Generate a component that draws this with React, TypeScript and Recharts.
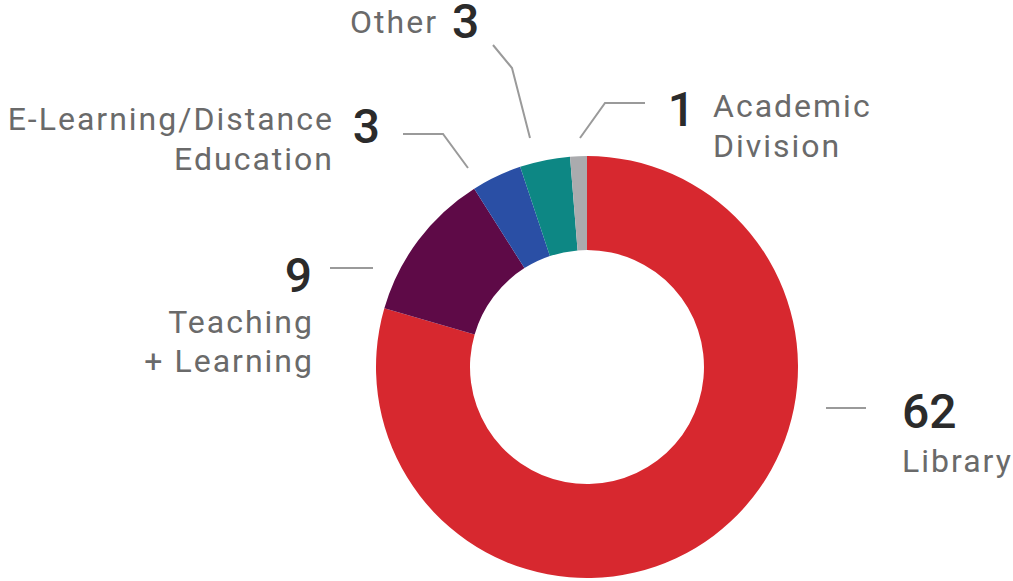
import React from "react";
import { PieChart, Pie, Cell } from "recharts";

const categories = ["Library", "Teaching + Learning", "E-Learning/Distance Education", "Other", "Academic Division"];
const values = [62, 9, 3, 3, 1];
const labelLines: string[][] = [
  ["Library"],
  ["Teaching", "+ Learning"],
  ["E-Learning/Distance", "Education"],
  ["Other"],
  ["Academic", "Division"],
];
const colors = ["#D7282F", "#5E0A47", "#2A4FA5", "#0D8784", "#AAABAE"];

const data = categories.map((name, i) => ({ name, value: values[i] }));

// Label layout (offsets relative to pie centre) – style, not data
type Layout = {
  line: [number, number][];
  num: { x: number; y: number; anchor: "start" | "end" };
  text: { x: number; y: number; anchor: "start" | "end"; lh: number };
};
const layouts: Layout[] = [
  {
    line: [[239, 41], [279, 41]],
    num: { x: 315, y: 61, anchor: "start" },
    text: { x: 315, y: 105, anchor: "start", lh: 40 },
  },
  {
    line: [[-257, -99], [-214, -99]],
    num: { x: -275, y: -75, anchor: "end" },
    text: { x: -273, y: -34, anchor: "end", lh: 39 },
  },
  {
    line: [[-184, -233], [-144, -233], [-119, -199]],
    num: { x: -207, y: -224, anchor: "end" },
    text: { x: -253, y: -237, anchor: "end", lh: 40 },
  },
  {
    line: [[-94, -322], [-75, -299], [-57, -229]],
    num: { x: -135, y: -329, anchor: "start" },
    text: { x: -149, y: -334, anchor: "end", lh: 40 },
  },
  {
    line: [[58, -264], [18, -264], [-7, -229]],
    num: { x: 108, y: -241, anchor: "end" },
    text: { x: 126, y: -250, anchor: "start", lh: 40 },
  },
];

const renderLabel = (props: any) => {
  const { cx, cy, index, value } = props;
  const l = layouts[index];
  const pts = l.line.map(([x, y]) => `${cx + x},${cy + y}`).join(" ");
  return (
    <g key={`lbl-${index}`}>
      <polyline points={pts} fill="none" stroke="#9a9a9a" strokeWidth={2} />
      <text
        x={cx + l.num.x}
        y={cy + l.num.y}
        textAnchor={l.num.anchor}
        fontFamily="Roboto, sans-serif"
        fontSize={48}
        fontWeight={500}
        fill="#2b2b2b"
      >
        {value}
      </text>
      {labelLines[index].map((t, j) => (
        <text
          key={j}
          x={cx + l.text.x}
          y={cy + l.text.y + j * l.text.lh}
          textAnchor={l.text.anchor}
          fontFamily="Roboto, sans-serif"
          fontSize={32}
          fontWeight={400}
          letterSpacing={2}
          fill="#6a6a6a"
        >
          {t}
        </text>
      ))}
    </g>
  );
};

export default function App() {
  return (
    <div style={{ position: "absolute", left: 0, top: 0, width: 1013, height: 581, background: "#fff" }}>
      <PieChart width={1013} height={581} margin={{ top: 0, right: 0, bottom: 0, left: 0 }}>
        <Pie
          data={data}
          dataKey="value"
          nameKey="name"
          cx={587}
          cy={367}
          innerRadius={117}
          outerRadius={211}
          startAngle={90}
          endAngle={-270}
          stroke="none"
          isAnimationActive={false}
          labelLine={false}
          label={renderLabel}
        >
          {data.map((d, i) => (
            <Cell key={d.name} fill={colors[i]} />
          ))}
        </Pie>
      </PieChart>
    </div>
  );
}
